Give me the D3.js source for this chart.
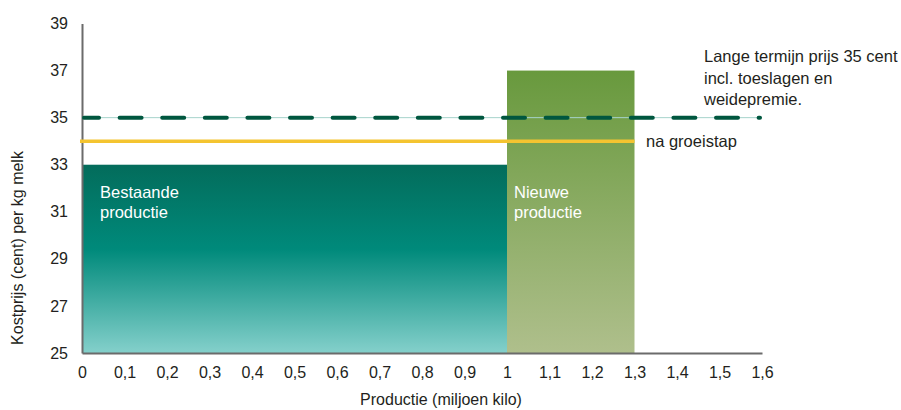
<!DOCTYPE html>
<html>
<head>
<meta charset="utf-8">
<script src="https://cdn.jsdelivr.net/npm/d3@7"></script>
<style>
  body { margin: 0; background: #fff; }
  svg text { font-family: "Liberation Sans Narrow", "Arial Narrow", "Liberation Sans", sans-serif; fill: #231f20; }
</style>
</head>
<body>
<svg id="chart" width="901" height="410"></svg>
<script>
// Kostprijs per productieblok (miljoen kilo, cent per kg)
const blocks = [
  { name: ["Bestaande", "productie"], from: 0, to: 1, cost: 33, grad: "gBestaand", pad: 18 },
  { name: ["Nieuwe", "productie"], from: 1, to: 1.3, cost: 37, grad: "gNieuw", pad: 7 }
];
const longTermPrice = 35;
const groeistapPrice = 34;
const groeistapEnd = 1.3;
const xTicks = [0, 0.1, 0.2, 0.3, 0.4, 0.5, 0.6, 0.7, 0.8, 0.9, 1, 1.1, 1.2, 1.3, 1.4, 1.5, 1.6];
const yTicks = [25, 27, 29, 31, 33, 35, 37, 39];
const priceLabel = ["Lange termijn prijs 35 cent", "incl. toeslagen en", "weidepremie."];
const groeiLabel = "na groeistap";

const svg = d3.select("#chart");
const x = d3.scaleLinear().domain([0, 1.6]).range([82, 762]);
const y = d3.scaleLinear().domain([25, 39]).range([353, 23.5]);
const fmt = d => d3.format("")(d).replace(".", ",");

// gradients for the two production blocks
const defs = svg.append("defs");
const g1 = defs.append("linearGradient").attr("id", "gBestaand").attr("x1", 0).attr("y1", 0).attr("x2", 0).attr("y2", 1);
g1.append("stop").attr("offset", "0%").attr("stop-color", "#036c5b");
g1.append("stop").attr("offset", "45%").attr("stop-color", "#008a7b");
g1.append("stop").attr("offset", "100%").attr("stop-color", "#84d0cb");
const g2 = defs.append("linearGradient").attr("id", "gNieuw").attr("x1", 0).attr("y1", 0).attr("x2", 0).attr("y2", 1);
g2.append("stop").attr("offset", "0%").attr("stop-color", "#68993d");
g2.append("stop").attr("offset", "100%").attr("stop-color", "#afbf8c");

svg.selectAll("rect.block").data(blocks).join("rect")
  .attr("class", "block")
  .attr("x", d => x(d.from))
  .attr("width", d => x(d.to) - x(d.from))
  .attr("y", d => y(d.cost))
  .attr("height", d => y(25) - y(d.cost))
  .attr("fill", d => `url(#${d.grad})`);

// block names, both on the same baseline just below the existing cost level
const labelTop = y(blocks[0].cost) + 33;
blocks.forEach(b => {
  const t = svg.append("text")
    .attr("y", labelTop)
    .style("font-size", "16.5px").style("fill", "#fff");
  b.name.forEach((line, i) => t.append("tspan").attr("x", x(b.from) + b.pad).attr("dy", i ? 20 : 0).text(line));
});

// axes
const xAxis = svg.append("g").attr("transform", `translate(0,${y(25)})`)
  .call(d3.axisBottom(x).tickValues(xTicks).tickFormat(fmt).tickSize(0).tickPadding(14));
const yAxis = svg.append("g").attr("transform", `translate(${x(0)},0)`)
  .call(d3.axisLeft(y).tickValues(yTicks).tickFormat(fmt).tickSize(0).tickPadding(14));
[xAxis, yAxis].forEach(a => {
  a.select(".domain").attr("stroke", "#6b6b6b").attr("stroke-width", 2);
  a.selectAll("text").style("font-size", "16px").style("fill", "#231f20").style("font-family", null);
});
xAxis.selectAll(".tick text").attr("dy", "0.71em");

// price at growth step
svg.append("line")
  .attr("x1", x(0) - 2).attr("x2", x(groeistapEnd))
  .attr("y1", y(groeistapPrice)).attr("y2", y(groeistapPrice))
  .attr("stroke", "#f4c430").attr("stroke-width", 3.5);

// long-term price: thin guide plus heavy dashes
svg.append("line")
  .attr("x1", x(0)).attr("x2", x(1.6))
  .attr("y1", y(longTermPrice)).attr("y2", y(longTermPrice))
  .attr("stroke", "#a6d3cb").attr("stroke-width", 1);
svg.append("line")
  .attr("x1", x(0) + 2).attr("x2", x(1.6) - 2)
  .attr("y1", y(longTermPrice)).attr("y2", y(longTermPrice))
  .attr("stroke", "#00573f").attr("stroke-width", 4)
  .attr("stroke-linecap", "round")
  .attr("stroke-dasharray", "22 20.6").attr("stroke-dashoffset", 7);

// annotations
svg.append("text").attr("x", 646).attr("y", y(groeistapPrice) + 6)
  .style("font-size", "16.5px").text(groeiLabel);
const pl = svg.append("text").attr("x", 704).attr("y", 62).style("font-size", "16.5px");
priceLabel.forEach((line, i) => pl.append("tspan").attr("x", 704).attr("dy", i ? 21.5 : 0).text(line));

// axis titles
svg.append("text").attr("x", 441).attr("y", 405).attr("text-anchor", "middle")
  .style("font-size", "16px").text("Productie (miljoen kilo)");
svg.append("text").attr("transform", `translate(23,248) rotate(-90)`).attr("text-anchor", "middle")
  .style("font-size", "16px").text("Kostprijs (cent) per kg melk");
</script>
</body>
</html>
